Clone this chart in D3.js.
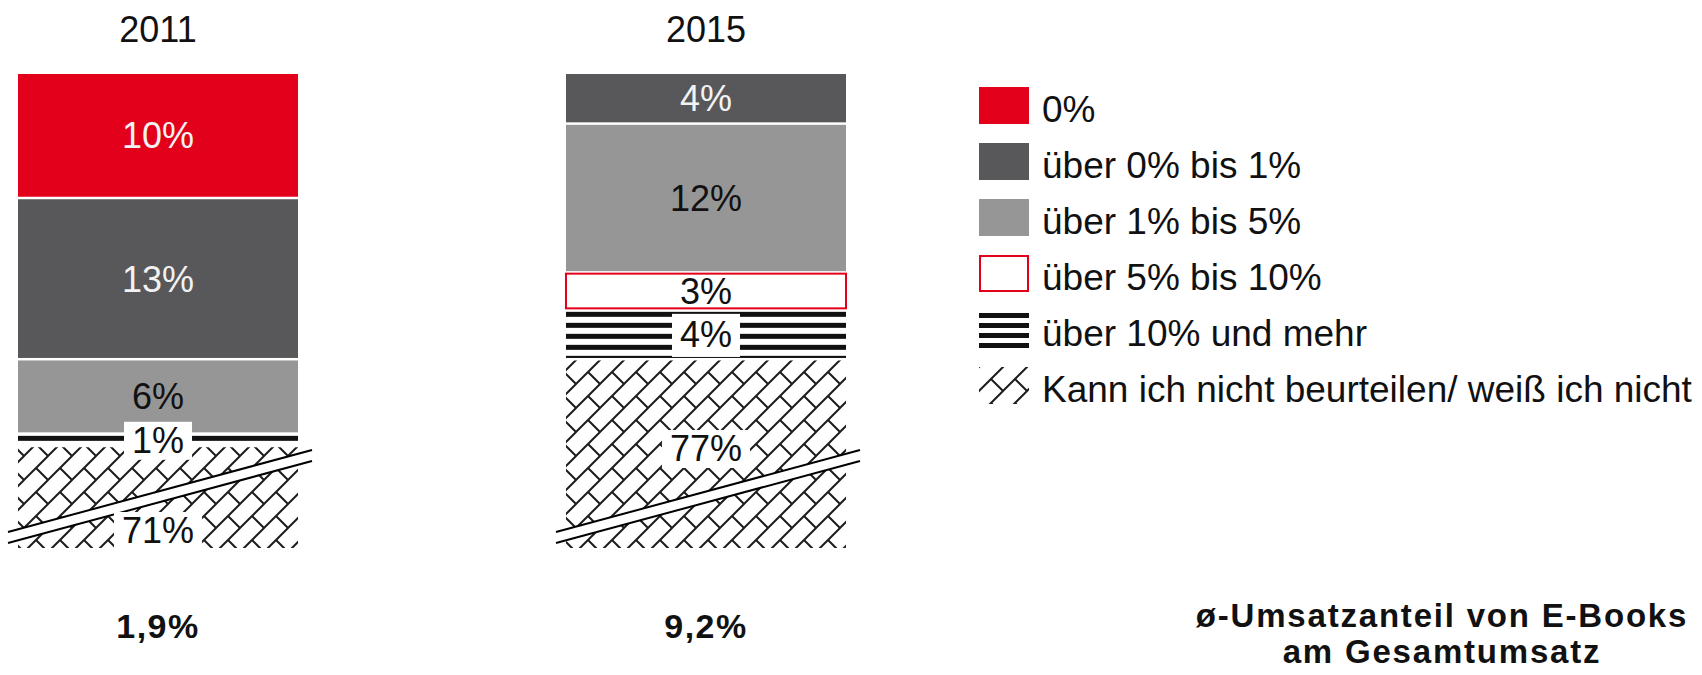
<!DOCTYPE html>
<html>
<head>
<meta charset="utf-8">
<script src="https://cdn.jsdelivr.net/npm/d3@7"></script>
<style>
  body { margin: 0; background: #fff; }
  svg { display: block; font-family: "Liberation Sans", Arial, sans-serif; }
</style>
</head>
<body>
<svg id="chart"></svg>
<script>
// data
var years = ["2011", "2015"];
var categories = ["0%", "über 0% bis 1%", "über 1% bis 5%", "über 5% bis 10%",
                  "über 10% und mehr", "Kann ich nicht beurteilen/ weiß ich nicht"];
var values2011 = [10, 13, 6, 0, 1, 71];
var values2015 = [0, 4, 12, 3, 4, 77];
var averages = ["1,9%", "9,2%"];
var captionLines = ["ø-Umsatzanteil von E-Books", "am Gesamtumsatz"];

var svgWidth = 1702, svgHeight = 675;
var svg = d3.select("#chart").attr("width", svgWidth).attr("height", svgHeight);
svg.append("rect").attr("width", svgWidth).attr("height", svgHeight).attr("fill", "#fff");

var barTop = 74, barBottom = 548;
var x = d3.scaleBand().domain(years).range([18, 846]).paddingInner(0.489);
var y = d3.scaleLinear().domain([0, 100]).range([barTop, barTop + 1240]);

var colors = ["#e2001a", "#58585a", "#969696", "#fff", null, null];
var labelColors = ["#f2f2f2", "#f2f2f2", "#111", "#111", "#111", "#111"];

var defs = svg.append("defs");

// diagonal brick hatch (office style pattern, scaled up)
var brick = defs.append("pattern").attr("id", "brick")
  .attr("patternUnits", "userSpaceOnUse").attr("width", 24).attr("height", 24);
brick.append("rect").attr("width", 24).attr("height", 24).attr("fill", "#fff");
brick.append("path")
  .attr("d", "M-3,27L27,-3M-3,3L3,-3M21,27L27,21M12,12L25,25")
  .attr("stroke", "#1c1c1c").attr("stroke-width", 2).attr("fill", "none");

function stripes(id, y0, period) {
  var p = defs.append("pattern").attr("id", id)
    .attr("patternUnits", "userSpaceOnUse").attr("y", y0)
    .attr("width", 10).attr("height", period);
  p.append("rect").attr("width", 10).attr("height", period).attr("fill", "#fff");
  p.append("rect").attr("width", 10).attr("height", 5).attr("fill", "#111");
}

function fillFor(k, id) {
  if (k == 4) return "url(#" + id + ")";
  if (k == 5) return "url(#brick)";
  return colors[k];
}

var series = [values2011, values2015];
var gap = 1.25;
// where the label of the cut-off bottom segment sits, measured up from the bar bottom
var brokenLabelLift = [18, 100];

years.forEach(function(year, b) {
  var vals = series[b];
  var x0 = x(year), w = x.bandwidth(), cx = x0 + w / 2;
  var segs = [], cum = 0;
  vals.forEach(function(v, k) {
    if (v > 0) segs.push({ k: k, v: v, start: cum, end: cum + v });
    cum += v;
  });

  var g = svg.append("g");
  var labels = [];

  segs.forEach(function(s, i) {
    var top = i == 0 ? y(s.start) : y(s.start) + gap;
    var broken = y(s.end) > barBottom;
    var bot = broken ? barBottom : y(s.end) - gap;
    var pid = "stripes-" + b;
    if (s.k == 4) stripes(pid, top + 1, 11);
    var r = g.append("rect")
      .attr("x", x0).attr("y", top)
      .attr("width", w).attr("height", bot - top)
      .attr("fill", fillFor(s.k, pid));
    if (s.k == 3) r.attr("stroke", "#e2001a").attr("stroke-width", 2);

    labels.push({
      k: s.k, v: s.v, broken: broken, h: bot - top,
      cy: broken ? barBottom - brokenLabelLift[b] : (top + bot) / 2
    });

    if (broken) {
      // break mark: white band between two parallel slanted lines
      var bx0 = x0 - 10, bx1 = x0 + w + 14;
      var l1 = [[bx0, barBottom - 16], [bx1, barBottom - 98]];
      var l2 = [[bx0, barBottom - 5], [bx1, barBottom - 87]];
      g.append("path")
        .attr("d", d3.line()([l1[0], l1[1], l2[1], l2[0]]) + "Z")
        .attr("fill", "#fff");
      g.append("path").attr("d", d3.line()(l1))
        .attr("stroke", "#000").attr("stroke-width", 2).attr("fill", "none");
      g.append("path").attr("d", d3.line()(l2))
        .attr("stroke", "#000").attr("stroke-width", 2).attr("fill", "none");
    }
  });

  labels.forEach(function(d) {
    var boxed = d.k >= 4;
    var box = boxed ? g.append("rect").attr("fill", "#fff") : null;
    var t = g.append("text")
      .attr("x", cx).attr("y", d.cy).attr("dy", "0.36em")
      .attr("text-anchor", "middle")
      .attr("font-size", 36)
      .attr("fill", labelColors[d.k])
      .text(d.v + "%");
    if (box) {
      var tw = t.node().getComputedTextLength();
      var bh = d.broken ? 38 : Math.max(38, d.h - 4);
      box.attr("x", cx - tw / 2 - 8).attr("y", d.cy - bh / 2 + 1)
        .attr("width", tw + 16).attr("height", bh);
    }
  });

  // year on top
  svg.append("text")
    .attr("x", cx).attr("y", 42)
    .attr("text-anchor", "middle")
    .attr("font-size", 36).attr("fill", "#111")
    .text(year);

  // average share below
  svg.append("text")
    .attr("x", cx).attr("y", 638)
    .attr("text-anchor", "middle")
    .attr("font-size", 34).attr("font-weight", "bold")
    .attr("letter-spacing", 1.5)
    .attr("fill", "#111")
    .text(averages[b]);
});

// legend
stripes("stripes-legend", 312, 10);
var legend = svg.append("g").attr("transform", "translate(979,87)");
var item = legend.selectAll("g").data(categories).enter().append("g")
  .attr("transform", function(d, i) { return "translate(0," + i * 56 + ")"; });
item.append("rect")
  .attr("x", function(d, i) { return i == 3 ? 1 : 0; })
  .attr("y", function(d, i) { return i == 3 ? 1 : 0; })
  .attr("width", function(d, i) { return i == 3 ? 48 : 50; })
  .attr("height", function(d, i) { return i == 3 ? 35 : 37; })
  .attr("fill", function(d, i) { return fillFor(i, "stripes-legend"); })
  .attr("stroke", function(d, i) { return i == 3 ? "#e2001a" : null; })
  .attr("stroke-width", 2);
item.append("text")
  .attr("x", 63).attr("y", 35)
  .attr("font-size", 37).attr("fill", "#111")
  .text(function(d) { return d; });

// caption bottom right
svg.append("text")
  .attr("x", 1442).attr("y", 627)
  .attr("text-anchor", "middle")
  .attr("font-size", 33).attr("font-weight", "bold")
  .attr("letter-spacing", 1.8)
  .attr("fill", "#111")
  .selectAll("tspan").data(captionLines).enter().append("tspan")
  .attr("x", 1442)
  .attr("dy", function(d, i) { return i == 0 ? 0 : 36; })
  .text(function(d) { return d; });
</script>
</body>
</html>
